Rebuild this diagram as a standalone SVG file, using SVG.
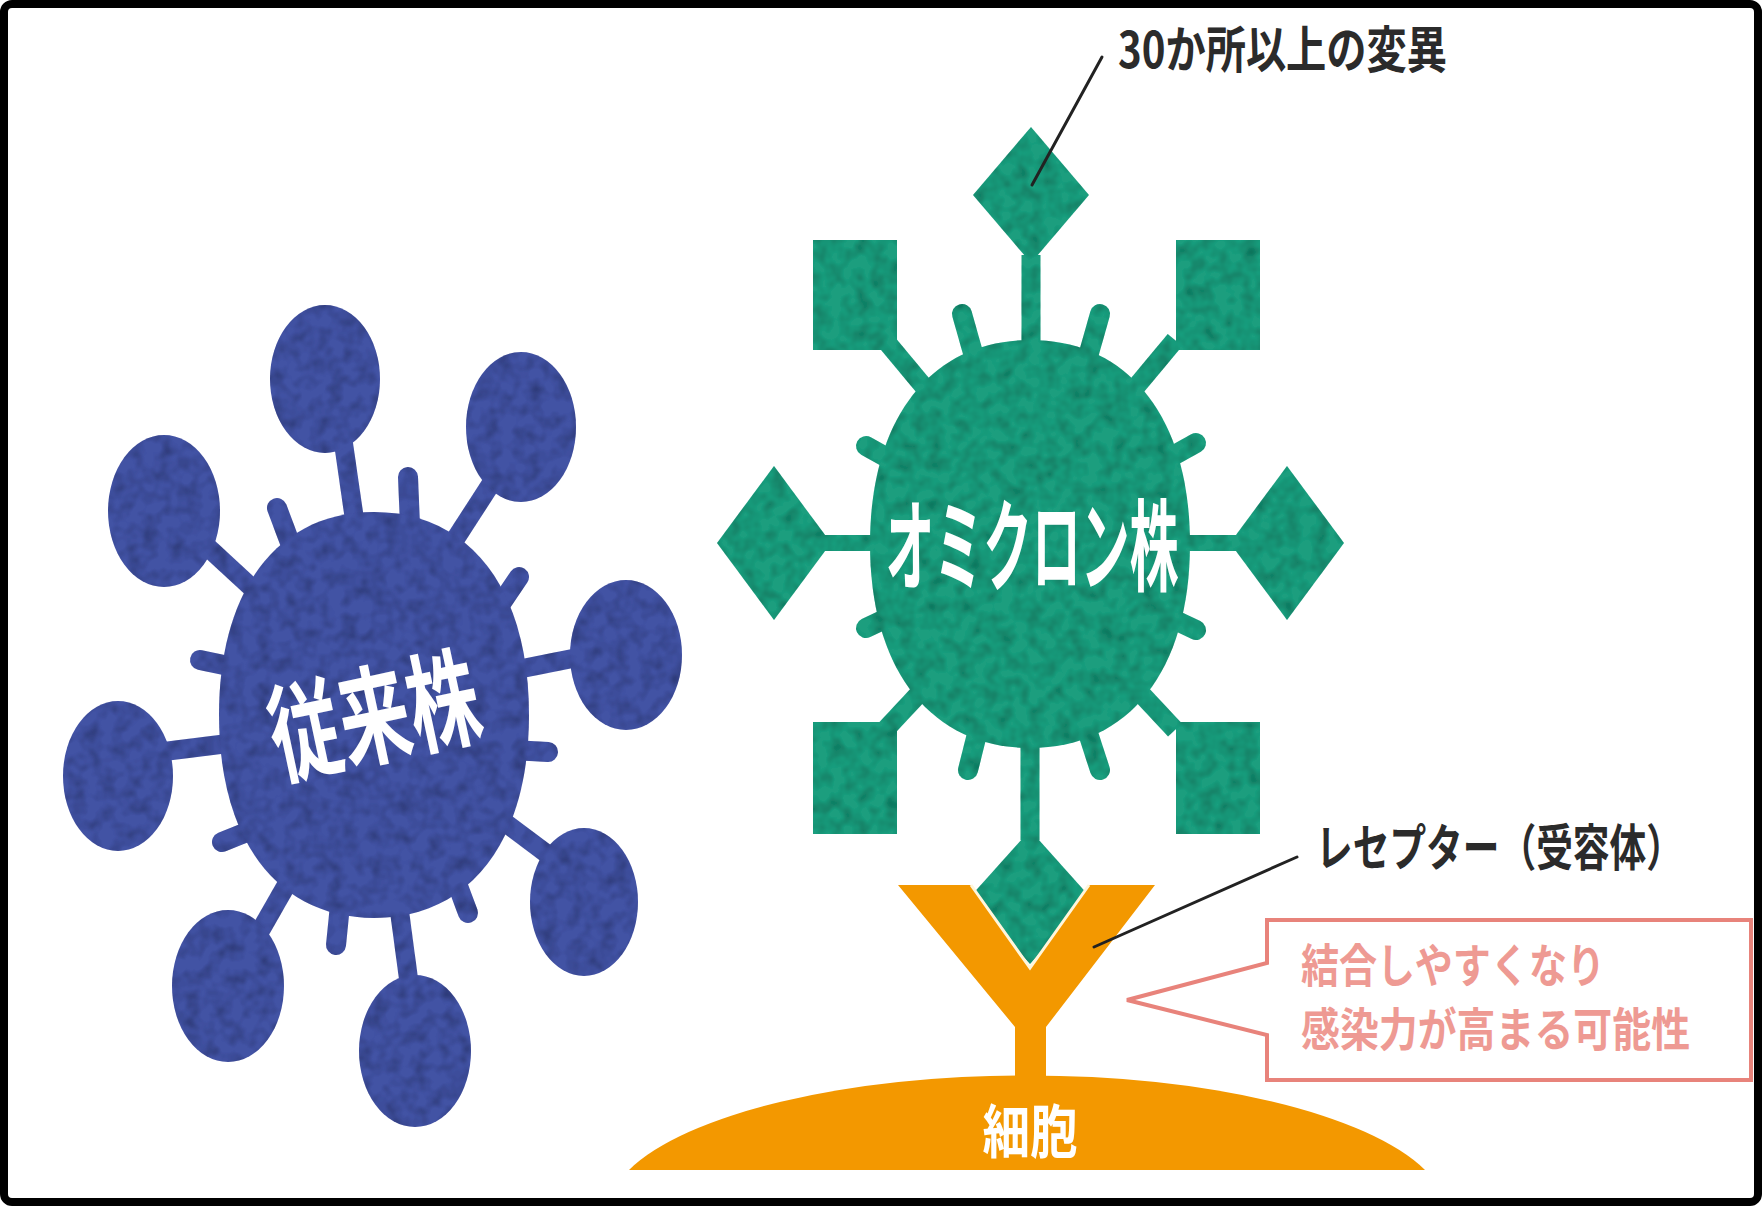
<svg xmlns="http://www.w3.org/2000/svg" width="1763" height="1207" viewBox="0 0 1763 1207">
  <style>
    .blue { fill: #4352a4; }
    .blue-line { stroke: #4352a4; fill: none; }
    .green { fill: #1f9e7e; }
    .green-line { stroke: #1f9e7e; fill: none; }
    .stem { stroke-width: 19; stroke-linecap: butt; }
    .knob { stroke-width: 20; stroke-linecap: round; }
    .orange { fill: #f39800; }
    .leader { stroke: #222; stroke-width: 3; fill: none; stroke-linecap: round; }
    .jp { font-family: "Noto Sans CJK JP", "Noto Sans", sans-serif; }
    .label { fill: #2b2b2b; font-weight: 700; }
    .white { fill: #ffffff; font-weight: 700; }
    .note { fill: #ee9a93; font-weight: 700; }
  </style>
  <defs>
    <!-- mottled surface for the virus particles -->
    <filter id="grain" x="-5%" y="-5%" width="110%" height="110%">
      <feTurbulence type="fractalNoise" baseFrequency="0.07" numOctaves="2" seed="4" result="noise"/>
      <feColorMatrix in="noise" type="matrix" values="0 0 0 0 0  0 0 0 0 0  0 0 0 0 0  0.9 0 0 0 -0.35" result="shade"/>
      <feComposite in="shade" in2="SourceAlpha" operator="in" result="spots"/>
      <feMerge><feMergeNode in="SourceGraphic"/><feMergeNode in="spots"/></feMerge>
    </filter>
  </defs>

  <rect x="0" y="0" width="1763" height="1207" fill="#ffffff"/>

  <!-- conventional strain -->
  <g id="conventional-strain">
    <g filter="url(#grain)">
      <g class="blue-line stem" stroke-width="18">
        <line x1="343" y1="440" x2="356" y2="530"/>
        <line x1="500" y1="470" x2="445" y2="555"/>
        <line x1="200" y1="540" x2="265" y2="600"/>
        <line x1="590" y1="655" x2="505" y2="672"/>
        <line x1="160" y1="752" x2="240" y2="742"/>
        <line x1="555" y1="860" x2="495" y2="815"/>
        <line x1="255" y1="940" x2="295" y2="870"/>
        <line x1="410" y1="990" x2="398" y2="900"/>
      </g>
      <g class="blue-line knob">
        <line x1="277" y1="508" x2="292" y2="548"/>
        <line x1="408" y1="477" x2="410" y2="525"/>
        <line x1="519" y1="577" x2="498" y2="608"/>
        <line x1="200" y1="660" x2="238" y2="668"/>
        <line x1="548" y1="752" x2="512" y2="750"/>
        <line x1="222" y1="842" x2="252" y2="830"/>
        <line x1="336" y1="945" x2="340" y2="905"/>
        <line x1="468" y1="913" x2="455" y2="878"/>
      </g>
      <path class="blue" d="M374,512 C470,512 529,589 529,715 C529,841 470,918 374,918 C278,918 219,841 219,715 C219,589 278,512 374,512 Z"/>
      <ellipse class="blue" cx="325" cy="379" rx="55" ry="74"/>
      <ellipse class="blue" cx="521" cy="427" rx="55" ry="75"/>
      <ellipse class="blue" cx="164" cy="511" rx="56" ry="76"/>
      <ellipse class="blue" cx="626" cy="655" rx="56" ry="75"/>
      <ellipse class="blue" cx="118" cy="776" rx="55" ry="75"/>
      <ellipse class="blue" cx="584" cy="902" rx="54" ry="74"/>
      <ellipse class="blue" cx="228" cy="986" rx="56" ry="76"/>
      <ellipse class="blue" cx="415" cy="1051" rx="56" ry="76"/>
    </g>
    <text class="jp white" x="374" y="756" font-size="108" text-anchor="middle" textLength="212" lengthAdjust="spacingAndGlyphs" transform="rotate(-12 374 715)">従来株</text>
  </g>

  <!-- omicron strain -->
  <g id="omicron-strain">
    <g filter="url(#grain)">
      <g class="green-line stem">
        <line x1="1031" y1="255" x2="1031" y2="360"/>
        <line x1="1030" y1="730" x2="1030" y2="840"/>
        <line x1="825" y1="543" x2="885" y2="543" stroke-width="16"/>
        <line x1="1236" y1="543" x2="1175" y2="543" stroke-width="16"/>
        <line x1="885" y1="340" x2="960" y2="430"/>
        <line x1="1175" y1="340" x2="1100" y2="430"/>
        <line x1="885" y1="730" x2="955" y2="655"/>
        <line x1="1175" y1="730" x2="1105" y2="655"/>
      </g>
      <g class="green-line knob">
        <line x1="962" y1="314" x2="975" y2="360"/>
        <line x1="1100" y1="314" x2="1087" y2="360"/>
        <line x1="866" y1="446" x2="902" y2="466"/>
        <line x1="1196" y1="443" x2="1160" y2="463"/>
        <line x1="866" y1="628" x2="902" y2="611"/>
        <line x1="1196" y1="630" x2="1160" y2="613"/>
        <line x1="968" y1="770" x2="978" y2="730"/>
        <line x1="1100" y1="770" x2="1087" y2="730"/>
      </g>
      <path class="green" d="M1030,340 C1129,340 1190,418 1190,544 C1190,670 1129,748 1030,748 C931,748 870,670 870,544 C870,418 931,340 1030,340 Z"/>
      <polygon class="green" points="1031,127 1089,195 1031,263 973,195"/>
      <polygon class="green" points="774,466 831,543 774,620 717,543"/>
      <polygon class="green" points="1287,466 1344,543 1287,620 1230,543"/>
      <polygon class="green" points="1030,830 1090,897 1030,964 970,897"/>
      <rect class="green" x="813" y="240" width="84" height="110"/>
      <rect class="green" x="1176" y="240" width="84" height="110"/>
      <rect class="green" x="813" y="722" width="84" height="112"/>
      <rect class="green" x="1176" y="722" width="84" height="112"/>
    </g>
    <text class="jp white" x="1032" y="583" font-size="100" text-anchor="middle" textLength="293" lengthAdjust="spacingAndGlyphs">オミクロン株</text>
  </g>

  <!-- cell with receptor -->
  <g id="cell">
    <path class="orange" d="M629,1170 A420,139 0 0 1 1425,1170 Z"/>
    <polygon class="orange" points="898,885 971,885 1030,968 1089,885 1155,885 1046,1027 1046,1095 1015,1095 1015,1027"/>
    <polyline points="971,885 1030,968 1089,885" fill="none" stroke="#fff6dc" stroke-width="3"/>
    <text class="jp white" x="1030" y="1153" font-size="58" text-anchor="middle" textLength="95" lengthAdjust="spacingAndGlyphs">細胞</text>
  </g>

  <!-- callouts -->
  <g id="connectors">
    <line class="leader" x1="1102" y1="57" x2="1032" y2="185"/>
    <line class="leader" x1="1297" y1="857" x2="1094" y2="947"/>
  </g>

  <g id="label-mutations">
    <text class="jp label" x="1118" y="68" font-size="50" textLength="329" lengthAdjust="spacingAndGlyphs">30か所以上の変異</text>
  </g>

  <g id="label-receptor">
    <!-- condensed horizontally so the full-width brackets fit before the frame -->
    <text class="jp label" font-size="50" transform="translate(1316 866) scale(0.734 1)">レセプター（受容体）</text>
  </g>

  <g id="note-binding">
    <path d="M1267,920 H1751 V1080 H1267 V1035 L1127,1000 L1267,963 Z" fill="#ffffff" stroke="#e8837b" stroke-width="4" stroke-linejoin="miter"/>
    <text class="jp note" x="1301" y="982" font-size="46" textLength="304" lengthAdjust="spacingAndGlyphs">結合しやすくなり</text>
    <text class="jp note" font-size="46" transform="translate(1301 1046) scale(0.846 1)">感染力が高まる可能性</text>
  </g>

  <!-- outer frame -->
  <rect x="4" y="4" width="1754" height="1198" rx="8" fill="none" stroke="#000000" stroke-width="8"/>
</svg>
